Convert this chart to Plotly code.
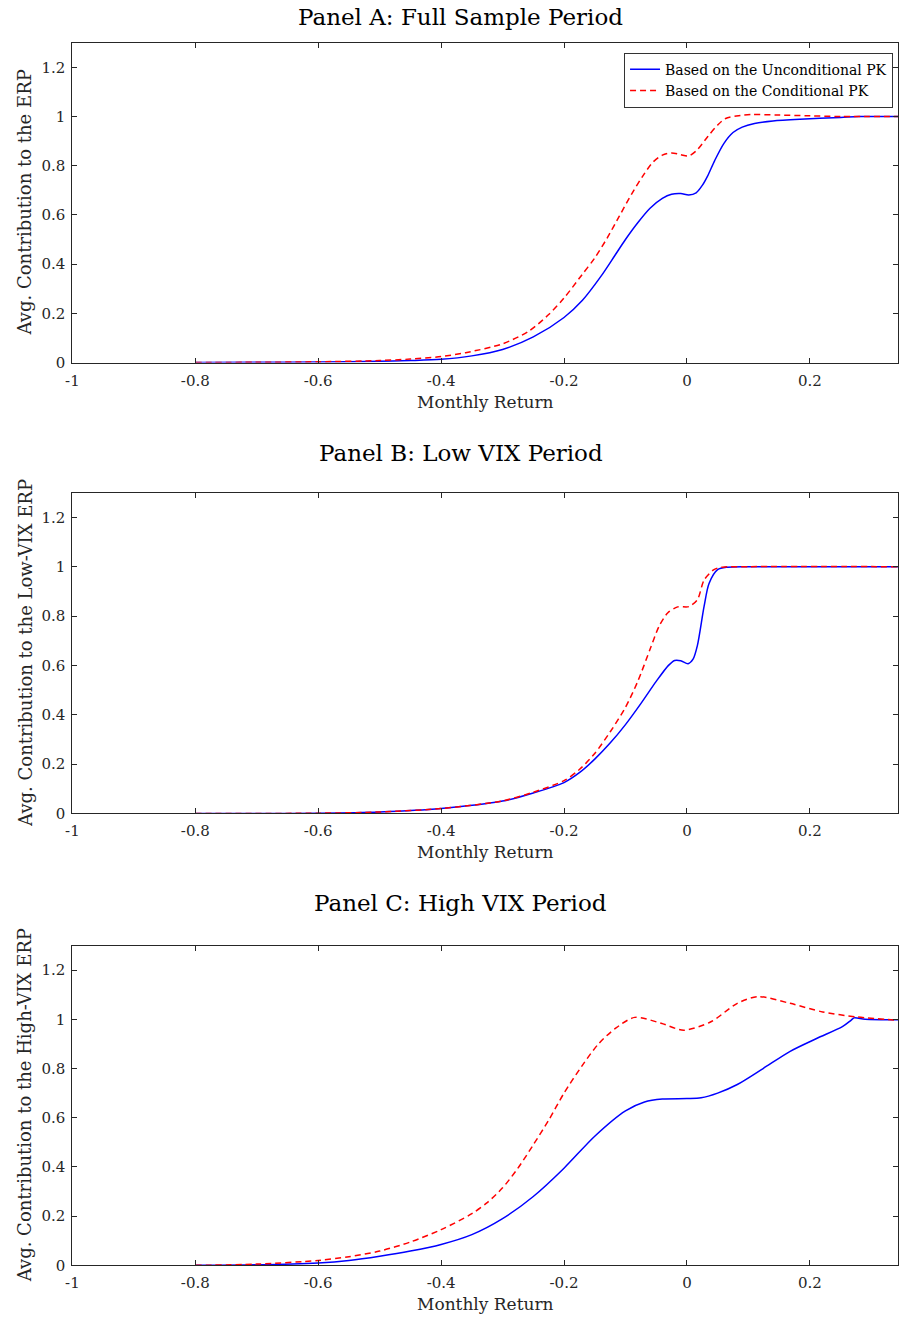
import plotly.graph_objects as go

# ---- Panel A: full sample period ----
a_unc_x = [-0.8, -0.7, -0.6, -0.5, -0.45, -0.4, -0.35, -0.3, -0.25, -0.2, -0.17, -0.14, -0.117,
           -0.1, -0.08, -0.06, -0.04, -0.025, -0.01, 0.003, 0.015, 0.025, 0.034, 0.045, 0.06,
           0.075, 0.09, 0.11, 0.14, 0.184, 0.25, 0.28, 0.3435]
a_unc_y = [0.0, 0.001, 0.002, 0.005, 0.008, 0.013, 0.027, 0.053, 0.104, 0.183, 0.253, 0.35, 0.436,
           0.5, 0.568, 0.627, 0.667, 0.684, 0.687, 0.681, 0.69, 0.72, 0.76, 0.82, 0.89,
           0.935, 0.957, 0.972, 0.982, 0.989, 0.996, 1.0, 1.0]
a_con_x = [-0.8, -0.7, -0.6, -0.5, -0.45, -0.4, -0.36, -0.3, -0.257, -0.225, -0.2, -0.171, -0.15,
           -0.13, -0.11, -0.09, -0.07, -0.055, -0.04, -0.025, -0.01, 0.003, 0.017, 0.034,
           0.05, 0.063, 0.087, 0.105, 0.15, 0.2, 0.25, 0.3435]
a_con_y = [0.0, 0.001, 0.003, 0.008, 0.014, 0.024, 0.04, 0.076, 0.128, 0.195, 0.262, 0.356, 0.425,
           0.505, 0.595, 0.685, 0.765, 0.815, 0.843, 0.852, 0.845, 0.84, 0.865, 0.919,
           0.965, 0.992, 1.004, 1.008, 1.006, 1.003, 1.0, 1.0]

# ---- Panel B: low VIX period ----
b_unc_x = [-0.8, -0.7, -0.6, -0.5, -0.4, -0.3, -0.25, -0.2, -0.175, -0.15, -0.125, -0.1, -0.075,
           -0.05, -0.03, -0.02, -0.01, 0.002, 0.01, 0.017, 0.028, 0.036, 0.05, 0.066, 0.1, 0.3435]
b_unc_y = [0.0, 0.0, 0.001, 0.006, 0.02, 0.05, 0.083, 0.125, 0.165, 0.22, 0.285, 0.36, 0.445,
           0.535, 0.6, 0.62, 0.619, 0.607, 0.625, 0.68, 0.84, 0.932, 0.988, 0.998, 1.0, 1.0]
b_con_x = [-0.8, -0.6, -0.5, -0.4, -0.3, -0.25, -0.2, -0.175, -0.15, -0.125, -0.1, -0.08, -0.06,
           -0.045, -0.031, -0.015, 0.003, 0.017, 0.028, 0.044, 0.058, 0.1, 0.3435]
b_con_y = [0.0, 0.001, 0.006, 0.02, 0.051, 0.086, 0.133, 0.178, 0.243, 0.33, 0.43, 0.535, 0.665,
           0.76, 0.813, 0.837, 0.838, 0.866, 0.946, 0.988, 0.998, 1.0, 1.0]

# ---- Panel C: high VIX period ----
c_unc_x = [-0.8, -0.7, -0.6, -0.55, -0.5, -0.45, -0.4, -0.35, -0.3, -0.25, -0.2, -0.15, -0.1,
           -0.069, -0.04, 0.0, 0.023, 0.05, 0.082, 0.124, 0.168, 0.211, 0.253, 0.267, 0.272,
           0.29, 0.3435]
c_unc_y = [0.0, 0.002, 0.01, 0.02, 0.037, 0.058, 0.085, 0.125, 0.19, 0.28, 0.395, 0.525, 0.628,
           0.664, 0.676, 0.678, 0.681, 0.7, 0.735, 0.8, 0.87, 0.922, 0.97, 0.996, 1.006,
           1.0, 0.998]
c_con_x = [-0.8, -0.7, -0.6, -0.55, -0.5, -0.45, -0.4, -0.35, -0.325, -0.3, -0.275, -0.25,
           -0.225, -0.2, -0.171, -0.144, -0.117, -0.085, -0.042, -0.005, 0.039, 0.082, 0.116,
           0.168, 0.221, 0.276, 0.3435]
c_con_y = [0.0, 0.005, 0.02, 0.035, 0.058, 0.095, 0.145, 0.21, 0.255, 0.315, 0.395, 0.49,
           0.59, 0.70, 0.81, 0.9, 0.962, 1.008, 0.984, 0.956, 0.99, 1.065, 1.092,
           1.065, 1.03, 1.01, 0.996]

panel_titles = ["Panel A: Full Sample Period", "Panel B: Low VIX Period", "Panel C: High VIX Period"]
y_titles = ["Avg. Contribution to the ERP", "Avg. Contribution to the Low-VIX ERP",
            "Avg. Contribution to the High-VIX ERP"]
x_title = "Monthly Return"
legend_names = ["Based on the Unconditional PK", "Based on the Conditional PK"]

x_ticks = [-1, -0.8, -0.6, -0.4, -0.2, 0, 0.2]
x_tick_text = ["-1", "-0.8", "-0.6", "-0.4", "-0.2", "0", "0.2"]
y_ticks = [0, 0.2, 0.4, 0.6, 0.8, 1.0, 1.2]
y_tick_text = ["0", "0.2", "0.4", "0.6", "0.8", "1", "1.2"]

W, H = 899, 1326
FONT = "DejaVu Serif"
AXC = "#262626"

# plot-area pixel boxes (left, top, right, bottom)
boxes = [(66, 43, 899, 365), (66, 496, 899, 819), (66, 952, 899, 1274)]
title_py = [17, 456, 909]
xlab_py = [405, 858, 1313]

series = [
    (a_unc_x, a_unc_y, a_con_x, a_con_y),
    (b_unc_x, b_unc_y, b_con_x, b_con_y),
    (c_unc_x, c_unc_y, c_con_x, c_con_y),
]

fig = go.Figure()
layout = dict(
    width=W, height=H,
    margin=dict(l=0, r=0, t=0, b=0),
    paper_bgcolor="white", plot_bgcolor="white",
    font=dict(family=FONT, color=AXC, size=14),
    showlegend=True,
    legend=dict(
        x=894 / W, y=1 - 53 / H, xanchor="right", yanchor="top",
        bgcolor="white", bordercolor="#333333", borderwidth=1,
        font=dict(family=FONT, size=14, color="black"),
        tracegroupgap=0, itemwidth=30,
    ),
)
annotations = []

for i, (ux, uy, cx, cy) in enumerate(series):
    n = "" if i == 0 else str(i + 1)
    xa, ya = "x" + n, "y" + n
    fig.add_trace(go.Scatter(
        x=ux, y=uy, mode="lines", xaxis=xa, yaxis=ya,
        line=dict(color="#0000ff", width=1.5, shape="spline", smoothing=0.8),
        name=legend_names[0], showlegend=(i == 0), hoverinfo="skip",
    ))
    fig.add_trace(go.Scatter(
        x=cx, y=cy, mode="lines", xaxis=xa, yaxis=ya,
        line=dict(color="#ff0000", width=1.5, dash="6px,4px", shape="spline", smoothing=0.8),
        name=legend_names[1], showlegend=(i == 0), hoverinfo="skip",
    ))
    left, top, right, bottom = boxes[i]
    axis_common = dict(
        showline=True, linecolor=AXC, linewidth=1, mirror="ticks",
        ticks="inside", ticklen=5, tickcolor=AXC, tickwidth=1,
        showgrid=False, zeroline=False,
        tickfont=dict(family=FONT, size=15, color=AXC),
    )
    layout["xaxis" + n] = dict(
        axis_common, domain=[left / W, right / W], range=[-1, 0.3435],
        tickvals=x_ticks, ticktext=x_tick_text, anchor=ya, ticklabelstandoff=4,
    )
    layout["yaxis" + n] = dict(
        axis_common, domain=[1 - bottom / H, 1 - top / H], range=[0, 1.3],
        tickvals=y_ticks, ticktext=y_tick_text, anchor=xa, ticklabelstandoff=3,
    )
    annotations.append(dict(
        text=panel_titles[i], x=458 / W, y=1 - title_py[i] / H, xref="paper", yref="paper",
        xanchor="center", yanchor="middle", showarrow=False,
        font=dict(family=FONT, size=23, color="black"),
    ))
    annotations.append(dict(
        text=x_title, x=(left + right) / 2 / W, y=1 - xlab_py[i] / H, xref="paper", yref="paper",
        xanchor="center", yanchor="middle", showarrow=False,
        font=dict(family=FONT, size=17, color=AXC),
    ))
    annotations.append(dict(
        text=y_titles[i], x=18 / W, y=1 - (top + bottom) / 2 / H, xref="paper", yref="paper",
        xanchor="center", yanchor="middle", showarrow=False, textangle=-90,
        font=dict(family=FONT, size=18, color=AXC),
    ))

layout["annotations"] = annotations
fig.update_layout(**layout)
fig.write_html("out.html")
